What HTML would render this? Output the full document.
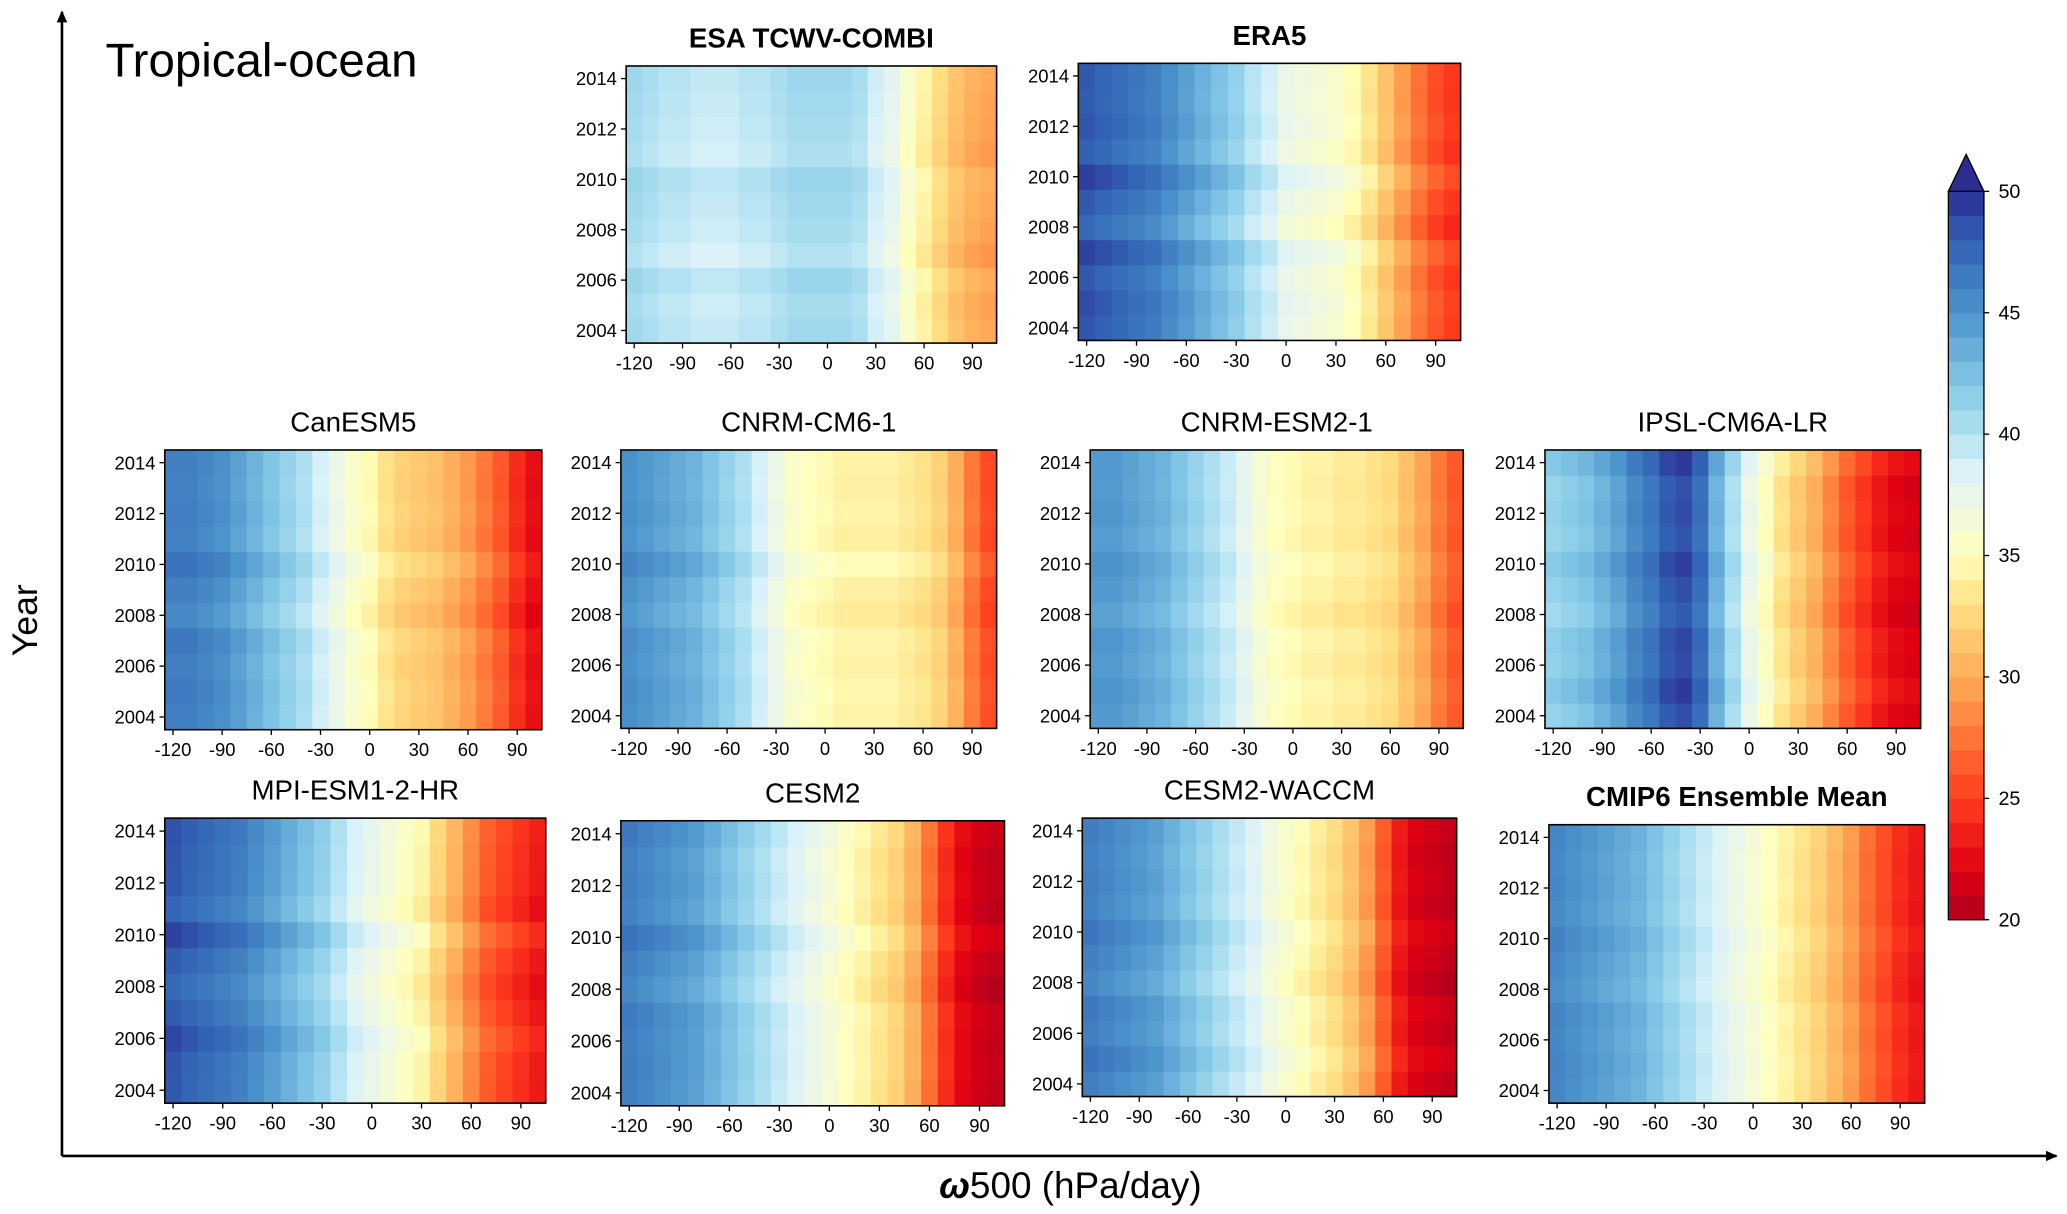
<!DOCTYPE html>
<html><head><meta charset="utf-8">
<style>
html,body{margin:0;padding:0;background:#fff;}
svg{display:block;font-family:"Liberation Sans",sans-serif;}
</style></head>
<body>
<svg id="fig" width="2067" height="1214" viewBox="0 0 1568 920" preserveAspectRatio="none" xmlns="http://www.w3.org/2000/svg">
<defs>
<marker id="arr" markerWidth="10" markerHeight="10" refX="8" refY="5" orient="auto" markerUnits="userSpaceOnUse"><path d="M0,1 L9,5 L0,9 Z" fill="#000"/></marker>
</defs>
<line x1="47" y1="876" x2="47" y2="9" stroke="#000" stroke-width="2" marker-end="url(#arr)"/>
<line x1="47" y1="876" x2="1560" y2="876" stroke="#000" stroke-width="2" marker-end="url(#arr)"/>
<text x="80" y="58" font-size="36">Tropical-ocean</text>
<text x="28" y="470" font-size="27" text-anchor="middle" transform="rotate(-90 28 470)">Year</text>
<text x="812" y="908" font-size="28" text-anchor="middle"><tspan font-weight="bold" font-style="italic">ω</tspan>500 (hPa/day)</text>
<g id="panels"></g>
<g id="cbar"></g>
</svg>
<script>
const years = [2004,2005,2006,2007,2008,2009,2010,2011,2012,2013,2014];
const omegaBins = [-120,-110,-100,-90,-80,-70,-60,-50,-40,-30,-20,-10,0,10,20,30,40,50,60,70,80,90,100];
const yTickLabels = [2004,2006,2008,2010,2012,2014];
const xTickLabels = [-120,-90,-60,-30,0,30,60,90];
const cbarTicks = [20,25,30,35,40,45,50];

const esaProfile = [40.5,40,39.5,39.5,39,39,39,39.5,39.5,40,40.5,40.5,40.5,40.5,40,38.5,37.5,35.5,34,32.5,31,30,29.5];
const era5Profile = [48,47.5,47,46.5,46,45,44,43,42,41,39.5,38.5,37,36.5,36,35.5,34.5,33,31,29,27,25.5,24.5];
const canProfile = [46,46,45.5,45,44,43,42,41,40,38.5,37,35.5,34.5,33,32,31.5,31,30,29,27.5,26,24,22.5];
const cnrmCmProfile = [45,44.5,44,43.5,43,42,41,40,38.5,37,35.5,35,34.5,34,34,34,34,33.5,33,32,30,27.5,25.5];
const cnrmEsmProfile = [44.5,44.5,44,43.5,43,42,41,40,39,37.5,36,35,34.5,34,34,33.5,33.5,33,32.5,31,29.5,27.5,26];
const ipslProfile = [41,41.5,42,43,44,45.5,46.5,48,48.5,47,43,40,37,35,33,31.5,30,28,26,24.5,23,22,21.5];
const mpiProfile = [48,47.5,47,46.5,46,45,44,43,42,41,39.5,38,37,36,35,34,32,30,28,26,25,24,23];
const cesmProfile = [46,45.5,45,44.5,44,43,42,41,40,39,38,37,36,35,34,33,32,30,27,24,22,21,20.5];
const waccmProfile = [46,45.5,45,44.5,44,43,42,41,40,39,38,36.5,35.5,34.5,33.5,32.5,31,29,26,23,21.5,21,20.5];
const ensProfile = [45.5,45,44.5,44,43.5,43,42,41,40,39,38,37,36,35,34,33,32,30.5,29,27,25.5,24,23];

const esaRows = [0.3,0,0.5,-0.5,0,0.3,0.6,-0.3,0,0.2,0.4];
const era5Rows = [0.5,0.8,0.3,1.2,-0.5,0.3,1.3,0,0.5,0.2,0.3];
const canRows = [0.3,0.5,0.2,0.6,-0.4,0.2,1,0,0.3,0.1,0.2];
const cnrmCmRows = [0.3,0.5,0.2,0.4,-0.3,0.1,0.9,0,0.3,0.1,0.2];
const cnrmEsmRows = [0.2,0.5,0.1,0.4,-0.3,0.2,0.6,0,0.3,0.1,0.2];
const ipslRows = [0.2,1,0.3,0.5,-0.3,0.2,0.8,0,0.3,0.1,1];
const mpiRows = [0.3,0.4,1,0.2,-0.4,0.2,1.2,-0.2,0.3,0.4,0.6];
const cesmRows = [0.2,0.4,0.3,0.5,-0.3,0.2,1,0,0.3,0.1,0.6];
const waccmRows = [0.3,1,0.3,0.6,-0.3,0.2,0.8,0,0.3,0.1,0.4];
const ensRows = [0.2,0.4,0.2,0.4,-0.2,0.1,0.5,0,0.2,0.1,0.3];

const panels = [
 {name:'esa-tcwv-combi', title:'ESA TCWV-COMBI', bold:true, l:475,t:50,r:756,b:260, prof:esaProfile, rows:esaRows},
 {name:'era5', title:'ERA5', bold:true, l:818,t:48,r:1108,b:258, prof:era5Profile, rows:era5Rows},
 {name:'canesm5', title:'CanESM5', bold:false, l:125,t:341,r:411,b:553, prof:canProfile, rows:canRows},
 {name:'cnrm-cm6-1', title:'CNRM-CM6-1', bold:false, l:471,t:341,r:756,b:552, prof:cnrmCmProfile, rows:cnrmCmRows},
 {name:'cnrm-esm2-1', title:'CNRM-ESM2-1', bold:false, l:827,t:341,r:1110,b:552, prof:cnrmEsmProfile, rows:cnrmEsmRows},
 {name:'ipsl-cm6a-lr', title:'IPSL-CM6A-LR', bold:false, l:1172,t:341,r:1457,b:552, prof:ipslProfile, rows:ipslRows},
 {name:'mpi-esm1-2-hr', title:'MPI-ESM1-2-HR', bold:false, l:125,t:620,r:414,b:836, prof:mpiProfile, rows:mpiRows},
 {name:'cesm2', title:'CESM2', bold:false, l:471,t:622,r:762,b:838, prof:cesmProfile, rows:cesmRows},
 {name:'cesm2-waccm', title:'CESM2-WACCM', bold:false, l:821,t:620,r:1105,b:831, prof:waccmProfile, rows:waccmRows},
 {name:'cmip6-ensemble-mean', title:'CMIP6 Ensemble Mean', bold:true, l:1175,t:625,r:1460,b:836, prof:ensProfile, rows:ensRows}
];

// colormap stops [value, color]
const stops = [[20,'#b0001e'],[22,'#e00012'],[25,'#ff3c20'],[27,'#ff6a30'],[30,'#ffac58'],[33,'#ffe084'],[35,'#ffffbc'],[37,'#eef8e4'],[38.5,'#dcf2f8'],[40,'#b2e2f2'],[42,'#84c8e6'],[45,'#4c94cc'],[48,'#3262b4'],[50,'#2c2c92']];
function hex(h){return [1,3,5].map(i=>parseInt(h.substr(i,2),16));}
function cmap(v){
  v=Math.max(20,Math.min(50,v));
  let i=0; while(i<stops.length-2 && v>stops[i+1][0]) i++;
  const w=(v-stops[i][0])/(stops[i+1][0]-stops[i][0]);
  const a=hex(stops[i][1]), b=hex(stops[i+1][1]);
  return 'rgb('+a.map((c,k)=>Math.round(c+(b[k]-c)*w)).join(',')+')';
}
const NS='http://www.w3.org/2000/svg';
function mk(tag,attrs,parent){const e=document.createElementNS(NS,tag);for(const k in attrs)e.setAttribute(k,attrs[k]);parent.appendChild(e);return e;}

const X0=-125, X1=105, Y0=2003.5, Y1=2014.5;
const root=document.getElementById('panels');
panels.forEach(p=>{
  const g=mk('g',{},root);
  
  
  const xs=v=>p.l+(v-X0)/(X1-X0)*(p.r-p.l);
  const ys=v=>p.b-(v-Y0)/(Y1-Y0)*(p.b-p.t);
  years.forEach((yr,ri)=>{
    omegaBins.forEach((om,ci)=>{
      const x0=xs(om-5), x1=xs(om+5), y0=ys(yr+0.5), y1=ys(yr-0.5);
      const c=mk('rect',{x:x0,y:y0,width:x1-x0+0.4,height:y1-y0+0.4,fill:cmap(p.prof[ci]+p.rows[ri])},g);
      
      
    });
  });
  const fr=mk('rect',{x:p.l,y:p.t,width:p.r-p.l,height:p.b-p.t,fill:'none',stroke:'#000','stroke-width':1.2},g);
  
  
  const tt=mk('text',{x:(p.l+p.r)/2,y:p.t-14,'font-size':21,'text-anchor':'middle','font-weight':p.bold?'bold':'normal'},g);
  tt.textContent=p.title;
  
  
  yTickLabels.forEach(yv=>{
    const y=ys(yv);
    mk('line',{x1:p.l-4,y1:y,x2:p.l,y2:y,stroke:'#000'},g);
    const t=mk('text',{x:p.l-7,y:y+5,'font-size':14,'text-anchor':'end'},g);
    t.textContent=yv;
    
    
  });
  xTickLabels.forEach(xv=>{
    const x=xs(xv);
    mk('line',{x1:x,y1:p.b,x2:x,y2:p.b+4,stroke:'#000'},g);
    const t=mk('text',{x:x,y:p.b+20,'font-size':14,'text-anchor':'middle'},g);
    t.textContent=xv;
    
    
  });
});

const cb=document.getElementById('cbar');


const CL=1478, CR=1505, CT=145, CB=697;
const cy=v=>CB-(v-20)/30*(CB-CT);
for(let v=20; v<50; v+=1){
  mk('rect',{x:CL,y:cy(v+1),width:CR-CL,height:cy(v)-cy(v+1)+0.4,fill:cmap(v+0.5)},cb);
}
mk('path',{d:`M${CL},${CT} L${(CL+CR)/2},117 L${CR},${CT} Z`,fill:cmap(50),stroke:'#000','stroke-width':1},cb);
mk('path',{d:`M${CL},${CT} L${CL},${CB} L${CR},${CB} L${CR},${CT}`,fill:'none',stroke:'#000','stroke-width':1},cb);
cbarTicks.forEach(v=>{
  const y=cy(v);
  mk('line',{x1:CR,y1:y,x2:CR+4,y2:y,stroke:'#000'},cb);
  const t=mk('text',{x:CR+11,y:y+5,'font-size':15},cb);
  t.textContent=v;
  
  
});
</script>
</body></html>
